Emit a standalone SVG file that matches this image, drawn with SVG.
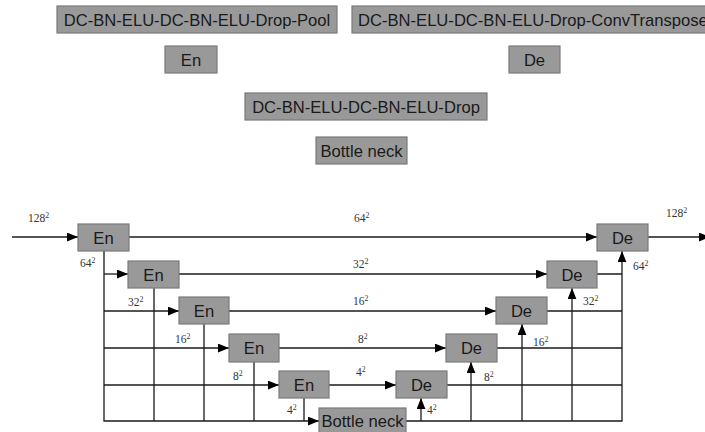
<svg xmlns="http://www.w3.org/2000/svg" width="705" height="432" viewBox="0 0 705 432">
<style>
.box{fill:#999999;stroke:#7a7a7a;stroke-width:1.2}
.lbl{font-family:"Liberation Sans",Arial,sans-serif;font-size:16.6px;fill:#1a1a1a;text-anchor:middle}
.dim{font-family:"Liberation Serif","Times New Roman",serif;font-size:11.5px;fill:#333}
.sup{font-size:7.8px}
.ln{fill:none;stroke:#1a1a1a;stroke-width:1.3}
</style>
<defs>
<marker id="ah" markerUnits="userSpaceOnUse" markerWidth="11" markerHeight="9" refX="10" refY="4" orient="auto" viewBox="0 0 10 8">
<path d="M0,0 L10,4 L0,8 z" fill="#000"/>
</marker>
</defs>
<rect width="705" height="432" fill="#fff"/>
<g id="legend">
<g id="leg-pool"><rect class="box" x="57" y="6" width="280" height="27"/><text class="lbl" x="197" y="25.5">DC-BN-ELU-DC-BN-ELU-Drop-Pool</text></g>
<g id="leg-conv"><rect class="box" x="352" y="6" width="380" height="27"/><text class="lbl" x="358" y="25.5" style="text-anchor:start">DC-BN-ELU-DC-BN-ELU-Drop-ConvTranspose</text></g>
<g id="leg-en"><rect class="box" x="165" y="46" width="52" height="27"/><text class="lbl" x="191" y="65.5">En</text></g>
<g id="leg-de"><rect class="box" x="509" y="46" width="51" height="27"/><text class="lbl" x="534.5" y="65.5">De</text></g>
<g id="leg-drop"><rect class="box" x="245" y="93" width="242" height="27"/><text class="lbl" x="366" y="112.5">DC-BN-ELU-DC-BN-ELU-Drop</text></g>
<g id="leg-bn"><rect class="box" x="316" y="137" width="91" height="27"/><text class="lbl" x="361.5" y="156.5">Bottle neck</text></g>
</g>
<g id="connectors">
<path class="ln" d="M12,237 H78" marker-end="url(#ah)"/>
<path class="ln" d="M129,237 H597" marker-end="url(#ah)"/>
<path class="ln" d="M648,237 H710" marker-end="url(#ah)"/>
<path class="ln" d="M179,274 H547" marker-end="url(#ah)"/>
<path class="ln" d="M229,311 H496" marker-end="url(#ah)"/>
<path class="ln" d="M279,348 H446" marker-end="url(#ah)"/>
<path class="ln" d="M329,385 H396" marker-end="url(#ah)"/>
<path class="ln" d="M104,251 V421 H319" marker-end="url(#ah)"/>
<path class="ln" d="M104,274 H128" marker-end="url(#ah)"/>
<path class="ln" d="M104,311 H179" marker-end="url(#ah)"/>
<path class="ln" d="M104,348 H229" marker-end="url(#ah)"/>
<path class="ln" d="M104,385 H279" marker-end="url(#ah)"/>
<path class="ln" d="M154,288 V421 M204,324 V421 M254,362 V421 M304,398 V421"/>
<path class="ln" d="M406,421 H622 V251" marker-end="url(#ah)"/>
<path class="ln" d="M597,274 H622 M547,311 H622 M497,348 H622 M447,385 H622"/>
<path class="ln" d="M572,421 V288" marker-end="url(#ah)"/>
<path class="ln" d="M522,421 V324" marker-end="url(#ah)"/>
<path class="ln" d="M471,421 V362" marker-end="url(#ah)"/>
<path class="ln" d="M421,421 V398" marker-end="url(#ah)"/>
</g>
<g id="en1"><rect class="box" x="78" y="224" width="51" height="27"/><text class="lbl" x="103.5" y="243.5">En</text></g>
<g id="en2"><rect class="box" x="128" y="261" width="51" height="27"/><text class="lbl" x="153.5" y="280.5">En</text></g>
<g id="en3"><rect class="box" x="179" y="297" width="50" height="27"/><text class="lbl" x="204" y="316.5">En</text></g>
<g id="en4"><rect class="box" x="229" y="334" width="50" height="28"/><text class="lbl" x="254" y="354">En</text></g>
<g id="en5"><rect class="box" x="279" y="371" width="50" height="27"/><text class="lbl" x="304" y="390.5">En</text></g>
<g id="bottleneck"><rect class="box" x="319" y="408" width="87" height="26"/><text class="lbl" x="362.5" y="427">Bottle neck</text></g>
<g id="de5"><rect class="box" x="396" y="371" width="51" height="27"/><text class="lbl" x="421.5" y="390.5">De</text></g>
<g id="de4"><rect class="box" x="446" y="334" width="51" height="28"/><text class="lbl" x="471.5" y="354">De</text></g>
<g id="de3"><rect class="box" x="496" y="297" width="51" height="27"/><text class="lbl" x="521.5" y="316.5">De</text></g>
<g id="de2"><rect class="box" x="547" y="261" width="50" height="27"/><text class="lbl" x="572" y="280.5">De</text></g>
<g id="de1"><rect class="box" x="597" y="224" width="51" height="27"/><text class="lbl" x="622.5" y="243.5">De</text></g>
<g id="dims">
<text class="dim" x="28" y="222">128<tspan class="sup" dy="-4.5">2</tspan></text>
<text class="dim" x="354" y="222">64<tspan class="sup" dy="-4.5">2</tspan></text>
<text class="dim" x="666" y="217">128<tspan class="sup" dy="-4.5">2</tspan></text>
<text class="dim" x="80" y="267">64<tspan class="sup" dy="-4.5">2</tspan></text>
<text class="dim" x="353" y="268">32<tspan class="sup" dy="-4.5">2</tspan></text>
<text class="dim" x="128" y="306">32<tspan class="sup" dy="-4.5">2</tspan></text>
<text class="dim" x="353" y="305">16<tspan class="sup" dy="-4.5">2</tspan></text>
<text class="dim" x="175" y="343">16<tspan class="sup" dy="-4.5">2</tspan></text>
<text class="dim" x="358" y="343">8<tspan class="sup" dy="-4.5">2</tspan></text>
<text class="dim" x="233" y="380">8<tspan class="sup" dy="-4.5">2</tspan></text>
<text class="dim" x="356" y="376">4<tspan class="sup" dy="-4.5">2</tspan></text>
<text class="dim" x="287" y="414">4<tspan class="sup" dy="-4.5">2</tspan></text>
<text class="dim" x="427" y="414">4<tspan class="sup" dy="-4.5">2</tspan></text>
<text class="dim" x="633" y="270">64<tspan class="sup" dy="-4.5">2</tspan></text>
<text class="dim" x="583" y="305">32<tspan class="sup" dy="-4.5">2</tspan></text>
<text class="dim" x="533" y="346">16<tspan class="sup" dy="-4.5">2</tspan></text>
<text class="dim" x="484" y="381">8<tspan class="sup" dy="-4.5">2</tspan></text>
</g>
</svg>
